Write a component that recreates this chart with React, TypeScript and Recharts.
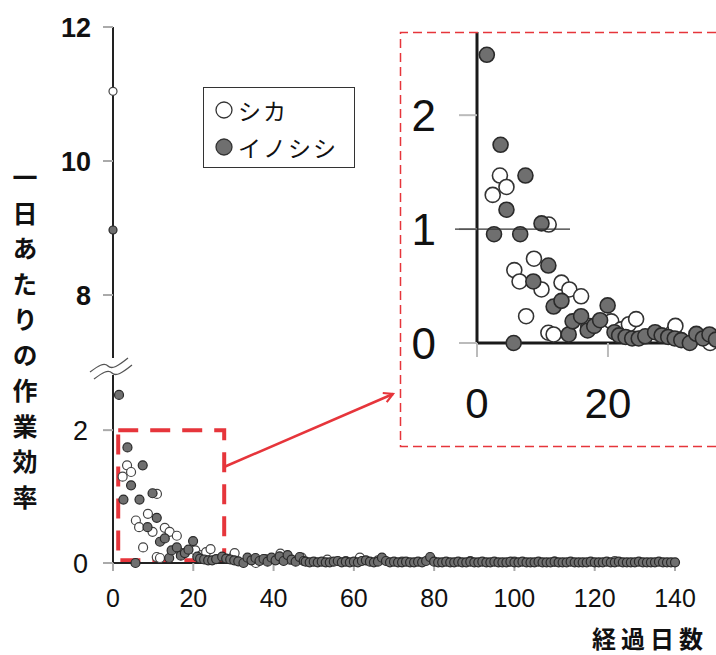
import React from 'react';
import { ScatterChart, Scatter, XAxis, YAxis, ReferenceArea } from 'recharts';

// ---- data ----
const seriesNames = ['シカ', 'イノシシ'];
const yTitle = '一日あたりの作業効率';
const xTitle = '経過日数';

const shikaDays = [0, 2.4, 3.5, 4.5, 5.7, 6.5, 7.5, 8.7, 9.85, 10.9, 10.95, 11.7, 12.9, 14.1, 15.9, 17, 20.5, 22, 23.2, 24.3, 30, 30.3, 35.6, 38, 41.7, 44, 47, 53.4, 58, 61.5, 66, 72, 89, 100, 110, 125];
const shikaValues = [11.04, 1.3, 1.47, 1.37, 0.64, 0.54, 0.235, 0.74, 0.47, 0.09, 1.04, 0.075, 0.53, 0.47, 0.41, 0.15, 0.19, 0.12, 0.165, 0.21, 0.1, 0.15, 0.0, 0.06, 0.14, 0.05, 0.08, 0.05, 0.03, 0.08, 0.04, 0.02, 0.03, 0.02, 0.02, 0.03];

const inoDays = [
  0, 1.5, 2.6, 3.6, 4.5, 5.6, 6.6, 7.4, 8.6, 9.85,
  10.9, 11.7, 12.9, 14, 14.6, 15.9, 16.9, 17.9, 18.8, 19.95,
  21, 21.7, 22.7, 23.7, 24.7, 25.7, 27.2, 28.2, 29.2, 30.2,
  31.2, 32.5, 33.5, 34.5, 35.5, 36.5, 37.5, 38.5, 39.5, 40.5,
  41.5, 42.5, 43.5, 44.5, 45.5, 46.5, 47.5,
  48, 49, 50, 51, 52, 53, 54, 55, 56, 57,
  58, 59, 60, 61, 62, 63, 64, 65, 66, 67,
  68, 69, 70, 71, 72, 73, 74, 75, 76, 77,
  78, 79, 80, 81, 82, 83, 84, 85, 86, 87,
  88, 89, 90, 91, 92, 93, 94, 95, 96, 97,
  98, 99, 100, 101, 102, 103, 104, 105, 106, 107,
  108, 109, 110, 111, 112, 113, 114, 115, 116, 117,
  118, 119, 120, 121, 122, 123, 124, 125, 126, 127,
  128, 129, 130, 131, 132, 133, 134, 135, 136, 137,
  138, 139, 140,
];
const inoValues = [
  8.97, 2.53, 0.955, 1.74, 1.17, 0, 0.955, 1.47, 0.54, 1.05,
  0.68, 0.32, 0.37, 0.075, 0.19, 0.235, 0.11, 0.15, 0.2, 0.33,
  0.095, 0.067, 0.053, 0.04, 0.04, 0.059, 0.095, 0.067, 0.053, 0.04,
  0.025, 0, 0.08, 0.04, 0.075, 0.03, 0.06, 0.02, 0.08, 0.04,
  0.1, 0.03, 0.12, 0.05, 0.02, 0.09, 0.03,
  0.02, 0.01, 0.02, 0.01, 0.02, 0.01, 0.01, 0.02, 0.03, 0.01,
  0.02, 0.01, 0.02, 0.01, 0.03, 0.04, 0.02, 0.01, 0.02, 0.08,
  0.03, 0.01, 0.02, 0.01, 0.01, 0.02, 0.01, 0.01, 0.02, 0.01,
  0.03, 0.09, 0.02, 0.01, 0.01, 0.02, 0.01, 0.01, 0.02, 0.01,
  0.01, 0.02, 0.01, 0.01, 0.02, 0.01, 0.01, 0.02, 0.01, 0.01,
  0.01, 0.02, 0.01, 0.01, 0.02, 0.01, 0.01, 0.01, 0.02, 0.01,
  0.01, 0.01, 0.02, 0.01, 0.01, 0.01, 0.02, 0.01, 0.01, 0.01,
  0.01, 0.02, 0.01, 0.01, 0.01, 0.02, 0.01, 0.01, 0.02, 0.01,
  0.01, 0.01, 0.01, 0.02, 0.01, 0.01, 0.01, 0.01, 0.02, 0.01,
  0.01, 0.01, 0.01,
];

const mainXTicks = [0, 20, 40, 60, 80, 100, 120, 140];
const upperYTicks = [8, 10, 12];
const lowerYTicks = [0, 2];
const insetXTicks = [0, 20];
const insetYTicks = [0, 1, 2];
const zoomBox = { x1: 1.3, x2: 27.7, y1: 0.04, y2: 2 };

const shika = shikaDays.map((x, i) => ({ x, y: shikaValues[i] }));
const ino = inoDays.map((x, i) => ({ x, y: inoValues[i] }));

const RED = '#e6353b';
const FILL = '#6f6f6f';
const EDGE = '#2a2a2a';

const dot = (r: number, fill: string, stroke: string, sw: number) => (p: any) =>
  p.cx == null ? <g /> : <circle cx={p.cx} cy={p.cy} r={r} fill={fill} stroke={stroke} strokeWidth={sw} />;

const upperFont = { fill: '#111', fontSize: 27, fontWeight: 700, fontFamily: 'Liberation Sans' };
const lowerFont = { fill: '#111', fontSize: 27, fontWeight: 400, fontFamily: 'Liberation Sans' };
const numFontX = { fill: '#111', fontSize: 25, fontFamily: 'Liberation Sans' };

const InsetYTick = (props: any) => {
  const { x, y, payload } = props;
  const axisX = x + 41;
  return (
    <g>
      {payload.value === 1 && (
        <line x1={axisX - 22} x2={axisX + 93} y1={y} y2={y} stroke="#333" strokeWidth={1.3} />
      )}
      <text x={x} y={y} dy="0.36em" textAnchor="end" fontSize={44} fontFamily="Liberation Sans" fill="#111">
        {payload.value}
      </text>
    </g>
  );
};

export default function App() {
  return (
    <div style={{ position: 'absolute', left: 0, top: 0, width: 716, height: 655, overflow: 'hidden', background: '#fff' }}>
      {/* upper panel */}
      <div style={{ position: 'absolute', left: 0, top: 0 }}>
        <ScatterChart width={716} height={358} margin={{ top: 27, right: 41, bottom: 0, left: 53 }}>
          <XAxis type="number" dataKey="x" domain={[0, 140]} hide />
          <YAxis
            type="number"
            dataKey="y"
            domain={[7.06, 12]}
            ticks={upperYTicks}
            width={60}
            axisLine={{ stroke: '#222', strokeWidth: 2 }}
            tickLine={{ stroke: '#aaa', strokeWidth: 2 }}
            tickSize={10}
            tickMargin={12}
            tick={upperFont}
          />
          <Scatter data={shika.filter((d) => d.y > 7)} isAnimationActive={false} shape={dot(4, '#fff', '#444', 1.2)} />
          <Scatter data={ino.filter((d) => d.y > 7)} isAnimationActive={false} shape={dot(4, FILL, EDGE, 1.2)} />
        </ScatterChart>
      </div>

      {/* lower panel */}
      <div style={{ position: 'absolute', left: 0, top: 0 }}>
        <ScatterChart width={716} height={655} margin={{ top: 375, right: 41, bottom: 52, left: 53 }}>
          <XAxis
            type="number"
            dataKey="x"
            domain={[0, 140]}
            ticks={mainXTicks}
            height={40}
            axisLine={{ stroke: '#222', strokeWidth: 2 }}
            tickLine={{ stroke: '#aaa', strokeWidth: 2 }}
            tickSize={8}
            tickMargin={18}
            tick={numFontX}
          />
          <YAxis
            type="number"
            dataKey="y"
            domain={[0, 2.83]}
            ticks={lowerYTicks}
            width={60}
            axisLine={{ stroke: '#222', strokeWidth: 2 }}
            tickLine={{ stroke: '#aaa', strokeWidth: 2 }}
            tickSize={10}
            tickMargin={15}
            tick={lowerFont}
          />
          <Scatter data={shika.filter((d) => d.y < 3)} isAnimationActive={false} shape={dot(4.5, '#fff', '#444', 1.2)} />
          <Scatter data={ino.filter((d) => d.y < 3)} isAnimationActive={false} shape={dot(4.5, FILL, EDGE, 1.2)} />
          <ReferenceArea
            x1={zoomBox.x1}
            x2={zoomBox.x2}
            y1={zoomBox.y1}
            y2={zoomBox.y2}
            fill="none"
            fillOpacity={0}
            stroke={RED}
            strokeWidth={4}
            strokeDasharray="20 12"
            ifOverflow="visible"
          />
        </ScatterChart>
      </div>

      {/* inset */}
      <div style={{ position: 'absolute', left: 400, top: 32 }}>
        <ScatterChart width={316} height={415} margin={{ top: 0, right: 0, bottom: 44, left: 0 }}>
          <XAxis
            type="number"
            dataKey="x"
            domain={[0, 36.2]}
            ticks={insetXTicks}
            height={60}
            axisLine={{ stroke: '#1a1a1a', strokeWidth: 3 }}
            tickLine={{ stroke: '#bbb', strokeWidth: 2 }}
            tickSize={14}
            tickMargin={31}
            tick={{ fill: '#111', fontSize: 42, fontFamily: 'Liberation Sans' }}
          />
          <YAxis
            type="number"
            dataKey="y"
            domain={[0, 2.73]}
            ticks={insetYTicks}
            width={77}
            axisLine={{ stroke: '#1a1a1a', strokeWidth: 3 }}
            tickLine={{ stroke: '#bbb', strokeWidth: 2 }}
            tickSize={18}
            tickMargin={23}
            tick={<InsetYTick />}
          />
          <Scatter data={shika.filter((d) => d.x <= 37 && d.y < 2.8)} isAnimationActive={false} shape={dot(7.5, '#fff', '#333', 1.6)} />
          <Scatter data={ino.filter((d) => d.x <= 37 && d.y < 2.8)} isAnimationActive={false} shape={dot(7.5, FILL, EDGE, 1.6)} />
        </ScatterChart>
      </div>

      {/* legend */}
      <div
        style={{
          position: 'absolute',
          left: 203,
          top: 87,
          width: 152,
          height: 81,
          boxSizing: 'border-box',
          border: '1.5px solid #333',
          background: '#fff',
          fontFamily: '"Noto Sans CJK JP"',
          fontSize: 23,
          color: '#111',
        }}
      >
        {seriesNames.map((name, i) => (
          <div key={name} style={{ position: 'absolute', left: 10, top: i === 0 ? 8 : 45, height: 28, display: 'flex', alignItems: 'center' }}>
            <svg width={20} height={20} style={{ marginRight: 4 }}>
              <circle cx={10} cy={10} r={8} fill={i === 0 ? '#fff' : FILL} stroke="#333" strokeWidth={1.3} />
            </svg>
            <span style={{ letterSpacing: 2, lineHeight: 1 }}>{name}</span>
          </div>
        ))}
      </div>

      {/* axis titles */}
      <div
        style={{
          position: 'absolute',
          left: 12,
          top: 165,
          writingMode: 'vertical-rl',
          fontFamily: '"Noto Sans CJK JP"',
          fontWeight: 700,
          fontSize: 25,
          lineHeight: 1,
          letterSpacing: 10.5,
          color: '#111',
        }}
      >
        {yTitle}
      </div>
      <div
        style={{
          position: 'absolute',
          left: 592,
          top: 626,
          fontFamily: '"Noto Sans CJK JP"',
          fontWeight: 700,
          fontSize: 24,
          letterSpacing: 5,
          lineHeight: 1,
          color: '#111',
          whiteSpace: 'nowrap',
        }}
      >
        {xTitle}
      </div>

      {/* decorations */}
      <svg width={716} height={655} style={{ position: 'absolute', left: 0, top: 0, pointerEvents: 'none' }}>
        <defs>
          <marker id="arr" markerWidth={12} markerHeight={12} refX={10} refY={6} orient="auto" markerUnits="userSpaceOnUse">
            <path d="M1,1 L10,6 L1,11" fill="none" stroke={RED} strokeWidth={2.2} />
          </marker>
        </defs>
        {/* inset frame */}
        <path d="M716,32.5 L400.5,32.5 L400.5,446.5 L716,446.5" fill="none" stroke={RED} strokeWidth={1.5} strokeDasharray="9 5" />
        {/* arrow */}
        <line x1={224} y1={467} x2={393} y2={394} stroke={RED} strokeWidth={2.5} markerEnd="url(#arr)" />
        {/* axis break */}
        <rect x={104} y={359} width={18} height={15} fill="#fff" />
        <path d="M90,372 C98,366 104,362 108,366 C112,370 118,366 128,358" fill="none" stroke="#555" strokeWidth={1.3} />
        <path d="M94,379 C102,373 108,369 112,373 C116,377 122,373 132,365" fill="none" stroke="#555" strokeWidth={1.3} />
      </svg>
    </div>
  );
}
